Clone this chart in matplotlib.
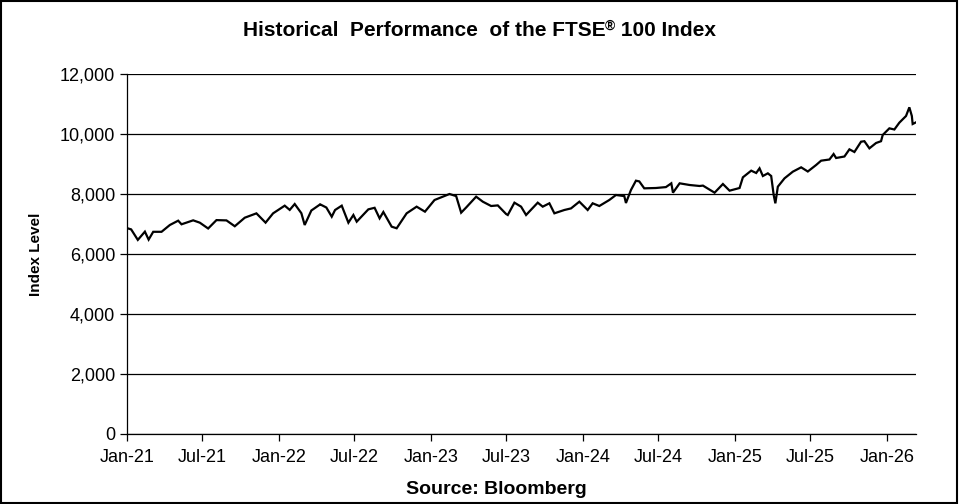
import matplotlib
matplotlib.use("Agg")
import matplotlib.pyplot as plt
import pandas as pd
from matplotlib.patches import Rectangle

dates = [
    "2021-01-04", "2021-01-11", "2021-01-27", "2021-02-13", "2021-02-22", "2021-03-05",
    "2021-03-25", "2021-04-14", "2021-05-04", "2021-05-12", "2021-06-09", "2021-06-25",
    "2021-07-15", "2021-08-04", "2021-08-28", "2021-09-17", "2021-10-11", "2021-11-08",
    "2021-11-30", "2021-12-18", "2022-01-15", "2022-01-27", "2022-02-08", "2022-02-24",
    "2022-03-04", "2022-03-20", "2022-04-08", "2022-04-10", "2022-04-25", "2022-05-08",
    "2022-05-16", "2022-06-01", "2022-06-17", "2022-06-29", "2022-07-07", "2022-08-04",
    "2022-08-19", "2022-08-31", "2022-09-09", "2022-09-29", "2022-10-11", "2022-11-04",
    "2022-11-28", "2022-12-18", "2023-01-10", "2023-02-15", "2023-03-03", "2023-03-15",
    "2023-03-27", "2023-04-20", "2023-05-06", "2023-05-26", "2023-06-11", "2023-07-01",
    "2023-07-05", "2023-07-21", "2023-08-06", "2023-08-18", "2023-09-15", "2023-09-27",
    "2023-10-13", "2023-10-25", "2023-11-18", "2023-12-04", "2023-12-24", "2024-01-13",
    "2024-01-25", "2024-02-10", "2024-03-05", "2024-03-21", "2024-04-10", "2024-04-14",
    "2024-04-26", "2024-05-08", "2024-05-16", "2024-05-28", "2024-06-25", "2024-07-19",
    "2024-08-01", "2024-08-05", "2024-08-21", "2024-09-14", "2024-10-08", "2024-10-16",
    "2024-11-13", "2024-12-03", "2024-12-19", "2025-01-12", "2025-01-20", "2025-02-09",
    "2025-02-21", "2025-03-01", "2025-03-09", "2025-03-21", "2025-03-29", "2025-04-04",
    "2025-04-08", "2025-04-14", "2025-04-30", "2025-05-20", "2025-06-09", "2025-06-25",
    "2025-07-15", "2025-07-27", "2025-08-16", "2025-08-26", "2025-09-01", "2025-09-21",
    "2025-10-03", "2025-10-15", "2025-10-31", "2025-11-08", "2025-11-20", "2025-12-06",
    "2025-12-18", "2025-12-22", "2026-01-07", "2026-01-19", "2026-01-31", "2026-02-16",
    "2026-02-24", "2026-03-02", "2026-03-04", "2026-03-12",
]
values = [
    6850, 6820, 6470, 6745, 6480, 6740,
    6740, 6967, 7111, 6990, 7122, 7044,
    6850, 7130, 7120, 6925, 7210, 7355,
    7045, 7355, 7611, 7470, 7666, 7360,
    6967, 7450, 7633, 7656, 7550, 7244,
    7467, 7611, 7044, 7300, 7078, 7489,
    7540, 7189, 7400, 6911, 6857, 7356,
    7578, 7411, 7800, 8000, 7930, 7378,
    7550, 7911, 7744, 7600, 7620, 7333,
    7300, 7711, 7578, 7300, 7711, 7578,
    7690, 7356, 7467, 7520, 7744, 7467,
    7690, 7600, 7800, 7967, 7930, 7700,
    8133, 8444, 8420, 8189, 8200, 8230,
    8356, 8044, 8356, 8300, 8267, 8280,
    8044, 8333, 8111, 8200, 8556, 8778,
    8700, 8856, 8600, 8689, 8600, 7967,
    7689, 8244, 8522, 8744, 8889, 8750,
    8967, 9111, 9150, 9333, 9200, 9250,
    9489, 9400, 9744, 9760, 9522, 9700,
    9760, 9967, 10189, 10150, 10378, 10600,
    10889, 10600, 10333, 10389,
]
y_ticks = [0, 2000, 4000, 6000, 8000, 10000, 12000]
x_tick_dates = ["2021-01-01", "2021-07-01", "2022-01-01", "2022-07-01", "2023-01-01",
                "2023-07-01", "2024-01-01", "2024-07-01", "2025-01-01", "2025-07-01",
                "2026-01-01"]
x_tick_labels = ["Jan-21", "Jul-21", "Jan-22", "Jul-22", "Jan-23", "Jul-23",
                 "Jan-24", "Jul-24", "Jan-25", "Jul-25", "Jan-26"]

plt.rcParams['font.family'] = ['Liberation Sans', 'DejaVu Sans']

fig = plt.figure(figsize=(9.59, 5.04), dpi=100)
ax = fig.add_axes([127/959, 1-434/504, (916-127)/959, (434-74)/504])

d = pd.to_datetime(dates)
ax.plot(d, values, color='black', lw=1.6, solid_joinstyle='miter')

ax.set_ylim(0, 12000)
ax.set_xlim(pd.Timestamp("2021-01-01"), pd.Timestamp("2026-03-12"))
ax.set_yticks(y_ticks)
ax.set_yticklabels([f"{v:,}" for v in y_ticks])
ax.set_xticks(pd.to_datetime(x_tick_dates))
ax.set_xticklabels(x_tick_labels)
ax.yaxis.grid(True, color='black', lw=0.9)
ax.set_axisbelow(True)
for s in ['top', 'right']:
    ax.spines[s].set_visible(False)
for s in ['left', 'bottom']:
    ax.spines[s].set_linewidth(0.9)
ax.tick_params(axis='both', labelsize=13, direction='out', length=5, width=0.9,
               color='black')
ax.tick_params(axis='x', pad=6)

ax.set_ylabel("Index Level", fontsize=11, fontweight='bold', labelpad=12)

# Title with superscript registered sign
fig.canvas.draw()
r = fig.canvas.get_renderer()
ty = 1 - 36/504
parts = [("Historical  Performance  of the FTSE", 15, 0.0),
         ("®", 10, 0.012),
         (" 100 Index", 15, 0.0)]
widths = []
for txt, fs, _ in parts:
    t = fig.text(0, 0, txt, fontsize=fs, fontweight='bold')
    widths.append(t.get_window_extent(renderer=r).width / fig.bbox.width)
    t.remove()
x0 = 0.5 - sum(widths) / 2
for (txt, fs, dy), w in zip(parts, widths):
    fig.text(x0, ty + dy, txt, fontsize=fs, fontweight='bold', ha='left', va='baseline')
    x0 += w

fig.text(496/959, 1-490/504, "Source: Bloomberg", ha='center', va='center',
         fontsize=14, fontweight='bold')

fig.patches.append(Rectangle((0.001, 0.001), 0.997, 0.997, transform=fig.transFigure,
                             fill=False, edgecolor='black', lw=1.5))

fig.savefig("out.png", dpi=100)
